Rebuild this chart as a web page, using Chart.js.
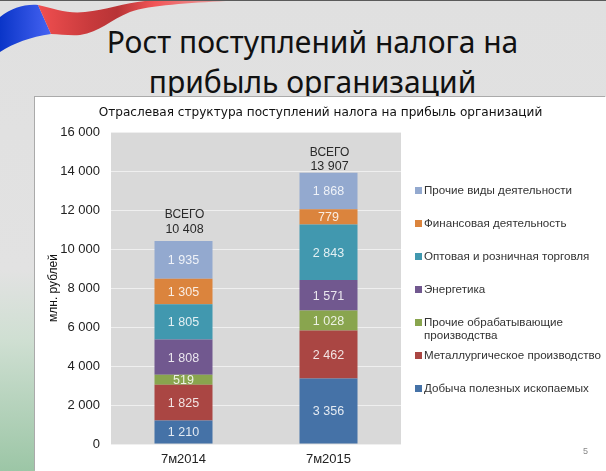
<!DOCTYPE html>
<html lang="ru"><head><meta charset="utf-8">
<script src="https://cdn.jsdelivr.net/npm/chart.js@4"></script>
<style>
html,body{margin:0;padding:0;width:606px;height:471px;overflow:hidden;background:#e0e0e0}
#bg{position:absolute;left:0;top:0;width:606px;height:471px;background:linear-gradient(180deg,#e0e0e0 0,#e2e2e2 270px,#cfdfd2 340px,#9cc6a6 471px)}
#topline{position:absolute;left:0;top:0;width:606px;height:1px;background:#5a5a5a}
#ribbon{position:absolute;left:0;top:0}
#slideTitle{position:absolute;left:27px;top:21px;width:571px;text-align:center;font:31.5px/40px "Noto Sans",sans-serif;color:#111;white-space:nowrap;transform:scaleX(.953)}
#panel{position:absolute;left:35px;top:97px;width:571px;height:374px;background:#fff;box-shadow:-1px -1px 0 #aaa}
canvas{position:absolute;left:0;top:0}
#pageNo{position:absolute;left:583px;top:446px;font:9px "Liberation Sans",sans-serif;color:#888}
</style></head><body>
<div id="bg"></div><div id="topline"></div>
<svg id="ribbon" width="240" height="60" viewBox="0 0 240 60">
<defs>
<linearGradient id="b" x1="0" x2="1" y1="0" y2="0"><stop offset="0" stop-color="#0a35c8"/><stop offset="1" stop-color="#4663f2"/></linearGradient>
<linearGradient id="r" x1="0" x2="1" y1="0" y2="0"><stop offset="0" stop-color="#f04f50"/><stop offset=".28" stop-color="#c83a3c"/><stop offset=".42" stop-color="#b83436"/><stop offset=".62" stop-color="#f25557"/><stop offset="1" stop-color="#e6a8a8"/></linearGradient>
</defs>
<path fill="url(#b)" d="M0 17C12 8 24 4 38 5L51 34C30 37 14 43 0 52Z"/>
<path fill="url(#r)" d="M38 5C55 9 68 14 85 12C105 10 125 3 145 1L226 1C190 3 150 5 130 12C110 20 100 32 80 35C70 36 60 34 51 34Z"/>
</svg>
<div id="slideTitle">Рост поступлений налога на<br>прибыль организаций</div>
<div id="panel"><canvas id="c" width="571" height="374" style="width:571px;height:374px"></canvas></div>
<div id="pageNo">5</div>
<script>
const categories = ['7м2014', '7м2015'];
const seriesNames = ['Добыча полезных ископаемых','Металлургическое производство','Прочие обрабатывающие производства','Энергетика','Оптовая и розничная торговля','Финансовая деятельность','Прочие виды деятельности'];
const mining = [1210, 3356];
const metallurgy = [1825, 2462];
const otherManufacturing = [519, 1028];
const energy = [1808, 1571];
const trade = [1805, 2843];
const finance = [1305, 779];
const otherActivities = [1935, 1868];
const totals = [10408, 13907];
const totalWord = 'ВСЕГО';
const seriesColors = ['#4572A7','#AA4643','#89A54E','#71588F','#4198AF','#DB843D','#93A9CF'];
const seriesValues = [mining, metallurgy, otherManufacturing, energy, trade, finance, otherActivities];
const FONT = '"Liberation Sans", Arial, sans-serif';
const fmt = v => String(v).replace(/\B(?=(\d{3})+$)/g, ' ');

const plotBg = { id:'plotBg', beforeDraw(ch){ const a=ch.chartArea, c=ch.ctx; c.save(); c.fillStyle='#d9d9d9'; c.fillRect(a.left,a.top,a.width,a.height); c.restore(); } };
const titleSpan = { id:'titleSpan', afterLayout(ch){ ch.titleBlock.left=0; ch.titleBlock.right=ch.width; } };

const labels = { id:'labels', afterDatasetsDraw(ch){
  const c=ch.ctx, y=ch.scales.y; c.save(); c.textAlign='center'; c.textBaseline='middle';
  c.font='12.5px '+FONT; c.fillStyle='rgba(255,255,255,.85)';
  ch.data.datasets.forEach((d,i)=>{ ch.getDatasetMeta(i).data.forEach((bar,j)=>{
    c.fillText(fmt(d.data[j]), bar.x, (bar.y+bar.base)/2+1);
  });});
  const offs=[12,6];
  c.fillStyle='#2a2a2a';
  ch.getDatasetMeta(0).data.forEach((bar,j)=>{
    const top=y.getPixelForValue(totals[j]);
    c.font='12px '+FONT; c.fillText(totalWord, bar.x+1, top-offs[j]-14);
    c.font='12.5px '+FONT; c.fillText(fmt(totals[j]), bar.x+1, top-offs[j]);
  });
  c.restore();
}};

const sideLegend = { id:'sideLegend', afterDraw(ch){
  const c=ch.ctx; c.save(); c.textBaseline='middle'; c.textAlign='left'; c.font='11.6px '+FONT;
  const ds=ch.data.datasets.slice().reverse();
  ds.forEach((d,i)=>{
    const y=93+33*i;
    c.fillStyle=d.backgroundColor; c.fillRect(380,y-3,7,7);
    c.fillStyle='#333';
    const w=d.label.split(' ');
    if(d.label.length>30){
      c.fillText(w.slice(0,2).join(' '),389,y+1);
      c.fillText(w.slice(2).join(' '),389,y+14);
    } else c.fillText(d.label,389,y+1);
  });
  c.restore();
}};

new Chart(document.getElementById('c'), {
  type:'bar',
  data:{ labels:categories, datasets:seriesNames.map((n,i)=>({label:n,data:seriesValues[i],backgroundColor:seriesColors[i],barPercentage:.4,categoryPercentage:1,borderWidth:0})) },
  options:{
    responsive:false, animation:false, devicePixelRatio:1,
    layout:{padding:{left:0,right:205,top:0,bottom:0}},
    plugins:{
      legend:{display:false}, tooltip:{enabled:false},
      title:{display:true,text:'Отраслевая структура поступлений налога на прибыль организаций',color:'#111',font:{family:'"DejaVu Sans", sans-serif',size:12.1,weight:'normal'},padding:{top:9,bottom:11.5}}
    },
    scales:{
      x:{stacked:true,grid:{display:false,drawTicks:false},border:{display:false},
         ticks:{color:'#222',font:{family:FONT,size:13},padding:8},
         afterFit(s){s.height=27;}},
      y:{stacked:true,min:0,max:16000,
         grid:{color:'#efefef',lineWidth:1,drawTicks:false},border:{display:false},
         ticks:{stepSize:2000,color:'#222',font:{family:FONT,size:13},padding:11,callback:v=>fmt(v)},
         title:{display:true,text:'млн. рублей',color:'#111',font:{family:FONT,size:12},padding:{top:11,bottom:0}},
         afterFit(s){s.width=76;}}
    }
  },
  plugins:[titleSpan,plotBg,labels,sideLegend]
});
</script>
</body></html>
